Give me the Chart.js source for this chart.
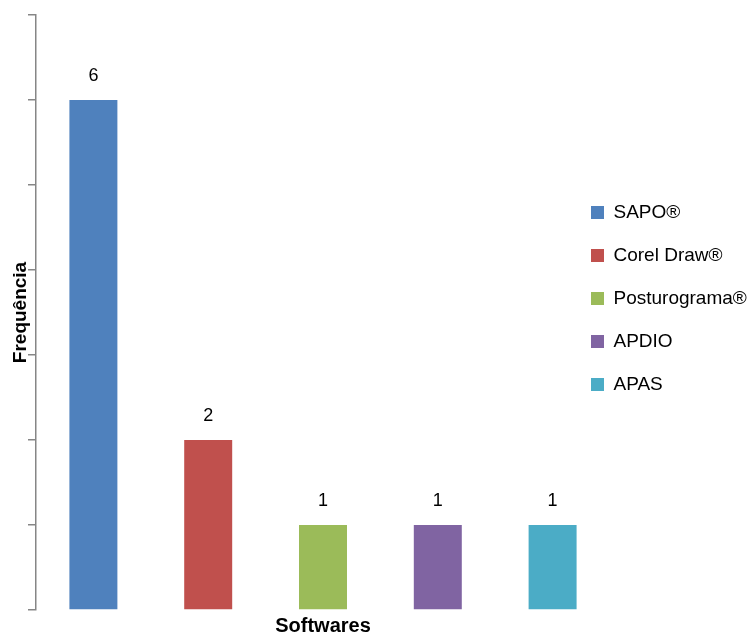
<!DOCTYPE html>
<html>
<head>
<meta charset="utf-8">
<script src="https://cdn.jsdelivr.net/npm/chart.js@4"></script>
<style>
  body { margin: 0; background: #fff; }
</style>
</head>
<body>
<canvas id="myChart" width="755" height="637"></canvas>
<script>
// dados do gráfico
let softwares = ['SAPO®', 'Corel Draw®', 'Posturograma®', 'APDIO', 'APAS'];
let frequencia = [6, 2, 1, 1, 1];
let cores = ['#4F81BD', '#C0504D', '#9BBB59', '#8064A2', '#4BACC6'];
let yTicks = [0, 1, 2, 3, 4, 5, 6, 7];

let corEixo = '#868686';
let fonte = "'Liberation Sans', Arial, sans-serif";

Chart.defaults.font.family = fonte;
Chart.defaults.color = '#000';

// escreve o valor em cima de cada barra
const rotulosBarras = {
    id: 'rotulosBarras',
    afterDatasetsDraw(chart) {
        let ctx = chart.ctx;
        let meta = chart.getDatasetMeta(0);
        ctx.save();
        ctx.font = '18px ' + fonte;
        ctx.fillStyle = '#000';
        ctx.textAlign = 'center';
        ctx.textBaseline = 'middle';
        meta.data.forEach((barra, i) => {
            ctx.fillText(frequencia[i], barra.x, barra.y - 24);
        });
        ctx.restore();
    }
};

// legenda fica um pouco por cima da area do grafico, como no original
const posicaoLegenda = {
    id: 'posicaoLegenda',
    afterLayout(chart) {
        let legenda = chart.legend;
        legenda.left = 567;
        legenda.right = 755;
        legenda.top = 179;
        legenda.bottom = 637;
    }
};

let ctx = document.getElementById('myChart');

let myChart = new Chart(ctx, {
    type: 'bar',
    data: {
        labels: softwares,
        datasets: [{
            label: 'Frequência',
            data: frequencia,
            backgroundColor: cores,
            borderWidth: 0,
            barPercentage: 0.418,
            categoryPercentage: 1
        }]
    },
    options: {
        responsive: false,
        animation: false,
        layout: {
            padding: { top: 15, left: 0, right: 0, bottom: 0 }
        },
        scales: {
            x: {
                grid: { display: false },
                border: { display: false },
                ticks: { display: false },
                title: {
                    display: true,
                    text: 'Softwares',
                    font: { size: 20, weight: 'bold', lineHeight: 1 },
                    padding: { top: 0, bottom: 1 }
                },
                afterFit(scale) {
                    scale.height = 27;
                }
            },
            y: {
                min: 0,
                max: yTicks[yTicks.length - 1],
                afterBuildTicks(scale) {
                    scale.ticks = yTicks.map(v => ({ value: v }));
                },
                ticks: { display: false },
                grid: {
                    drawOnChartArea: false,
                    drawTicks: true,
                    tickLength: 8,
                    color: corEixo,
                    lineWidth: 1.5
                },
                border: { display: true, color: corEixo, width: 1.5 },
                title: {
                    display: true,
                    text: 'Frequência',
                    font: { size: 19, weight: 'bold', lineHeight: 1 },
                    padding: { top: 11, bottom: 0 }
                },
                afterFit(scale) {
                    scale.width = 36;
                }
            }
        },
        plugins: {
            legend: {
                position: 'right',
                align: 'start',
                maxWidth: 145,
                labels: {
                    font: { size: 19 },
                    color: '#000',
                    boxWidth: 13,
                    boxHeight: 13,
                    padding: 24,
                    generateLabels: chart => softwares.map((nome, i) => ({
                        text: nome,
                        fillStyle: cores[i],
                        strokeStyle: cores[i],
                        lineWidth: 0,
                        hidden: false,
                        index: i
                    }))
                }
            },
            tooltip: { enabled: false }
        }
    },
    plugins: [rotulosBarras, posicaoLegenda]
});
</script>
</body>
</html>
